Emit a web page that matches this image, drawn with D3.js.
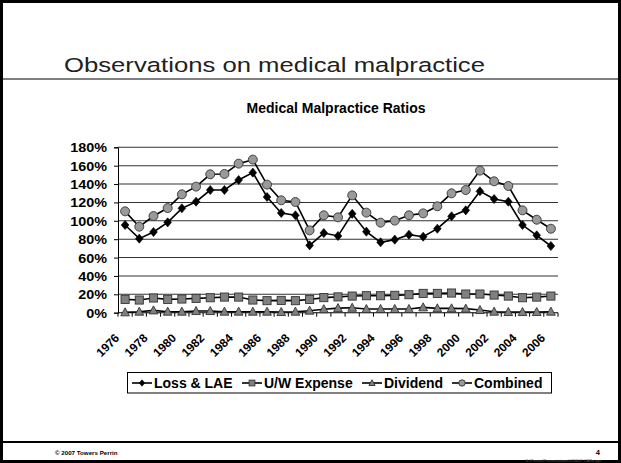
<!DOCTYPE html>
<html>
<head>
<meta charset="utf-8">
<script src="https://cdn.jsdelivr.net/npm/d3@7"></script>
<style>
  html, body { margin: 0; padding: 0; background: #fff; }
  svg { display: block; font-family: "Liberation Sans", Arial, sans-serif; }
</style>
</head>
<body>
<svg id="slide" width="621" height="463"></svg>
<script>
// Calendar years on the x axis
const years = d3.range(1976, 2007);

// Ratios (% of earned premium) by year
const lossLAE = [95.4, 80.6, 87.8, 98.3, 113.6, 120.8, 133.5, 133.5, 144.4, 152.4,
  125.9, 108.5, 106.0, 73.3, 86.7, 83.5, 107.6, 88.2, 76.6, 79.5,
  84.9, 82.7, 91.4, 104.9, 111.4, 132.1, 123.7, 120.8, 95.4, 84.2, 72.6];
const uwExpense = [14.5, 13.8, 16.0, 14.5, 14.9, 15.6, 16.3, 17.0, 17.0, 13.8,
  13.1, 13.4, 13.1, 14.4, 16.4, 17.2, 18.1, 18.5, 18.5, 18.9,
  19.6, 21.0, 21.0, 21.4, 20.3, 20.3, 19.2, 18.1, 16.3, 17.0, 18.1];
const dividend = [0.4, 1.1, 2.5, 1.1, 1.1, 1.8, 1.8, 1.1, 1.1, 1.1,
  1.1, 0.7, 1.1, 2.2, 3.8, 5.0, 5.4, 4.0, 4.0, 4.0,
  4.0, 5.8, 4.7, 4.7, 4.4, 2.9, 1.1, 0.7, 0.7, 0.7, 1.1];
const combined = [110.3, 93.6, 105.2, 113.9, 128.8, 137.2, 150.6, 151.0, 162.2, 166.6,
  139.4, 122.3, 120.5, 89.6, 106.0, 103.8, 127.7, 108.9, 98.0, 100.2,
  106.0, 108.1, 115.8, 129.9, 133.5, 154.6, 143.0, 137.9, 111.4, 101.2, 91.4];

const yTicks = [0, 20, 40, 60, 80, 100, 120, 140, 160, 180];
const seriesNames = ["Loss & LAE", "U/W Expense", "Dividend", "Combined"];

const series = [
  { name: seriesNames[0], values: lossLAE, marker: "diamond", fill: "#000" },
  { name: seriesNames[1], values: uwExpense, marker: "square", fill: "#808080" },
  { name: seriesNames[2], values: dividend, marker: "triangle", fill: "#808080" },
  { name: seriesNames[3], values: combined, marker: "circle", fill: "#999" }
];

const svg = d3.select("#slide");
const W = 621, H = 463;

// Slide frame, header rule and footer rule
svg.append("rect").attr("x", 1.5).attr("y", 1.5).attr("width", W - 3).attr("height", H - 3)
  .attr("fill", "none").attr("stroke", "#000").attr("stroke-width", 3);
svg.append("line").attr("x1", 0).attr("x2", W).attr("y1", 79).attr("y2", 79)
  .attr("stroke", "#000").attr("stroke-width", 1.2);
svg.append("line").attr("x1", 0).attr("x2", W).attr("y1", 442).attr("y2", 442)
  .attr("stroke", "#000").attr("stroke-width", 2.2);

svg.append("text").attr("x", 64).attr("y", 72)
  .style("font-size", "20.5px").style("font-weight", "normal")
  .attr("textLength", 421).attr("lengthAdjust", "spacingAndGlyphs")
  .attr("fill", "#222").text("Observations on medical malpractice");

svg.append("text").attr("x", 55).attr("y", 455)
  .style("font-size", "6.2px").style("font-weight", "bold").text("© 2007 Towers Perrin");
svg.append("text").attr("x", 600).attr("y", 455).attr("text-anchor", "end")
  .style("font-size", "7.5px").style("font-weight", "bold").text("4");
svg.append("text").attr("x", 601).attr("y", 462).attr("text-anchor", "end")
  .style("font-size", "4px").attr("fill", "#555")
  .text("S:\\Pensis\\Presentations\\070607 CARe.ppt");

// Chart title
svg.append("text").attr("x", 336).attr("y", 113).attr("text-anchor", "middle")
  .style("font-size", "14px").style("font-weight", "bold").text("Medical Malpractice Ratios");

// Plot area
const plot = { left: 118, right: 558, top: 147.3, bottom: 312.7 };

const x = d3.scaleBand().domain(years).range([plot.left, plot.right]);
const cx = d => x(d) + x.bandwidth() / 2;
const y = d3.scaleLinear().domain([0, 180]).range([plot.bottom, plot.top]);

const g = svg.append("g");

// Horizontal gridlines
g.append("g").selectAll("line").data(yTicks.filter(t => t > 0)).join("line")
  .attr("x1", plot.left).attr("x2", plot.right)
  .attr("y1", d => y(d)).attr("y2", d => y(d))
  .attr("stroke", "#333").attr("stroke-width", 1.1);

// Y axis
const yAxis = d3.axisLeft(y).tickValues(yTicks).tickSize(4).tickFormat(d => d + "%");
const yg = g.append("g").attr("transform", `translate(${plot.left},0)`).call(yAxis);
yg.select(".domain").attr("stroke", "#000");
yg.selectAll(".tick line").attr("stroke", "#000");
yg.selectAll(".tick text").attr("x", -11 / 1.15).attr("dy", "0.36em")
  .attr("transform", "scale(1.15,1)")
  .style("font-size", "12.5px").style("font-weight", "bold")
  .style("font-family", "'Liberation Sans', Arial, sans-serif").attr("fill", "#000");

// X axis at 0% with ticks on category boundaries
g.append("line").attr("x1", plot.left).attr("x2", plot.right)
  .attr("y1", y(0)).attr("y2", y(0)).attr("stroke", "#000").attr("stroke-width", 1.1);
g.append("g").selectAll("line").data(years.concat([years[years.length - 1] + 1])).join("line")
  .attr("x1", (d, i) => plot.left + i * x.bandwidth())
  .attr("x2", (d, i) => plot.left + i * x.bandwidth())
  .attr("y1", y(0)).attr("y2", y(0) + 4)
  .attr("stroke", "#000");

// Year labels, every other year, rotated
g.append("g").selectAll("text").data(years.filter(d => (d - 1976) % 2 === 0)).join("text")
  .attr("transform", d => `translate(${cx(d) - 5},${y(0) + 26}) rotate(-45)`)
  .attr("text-anchor", "end")
  .style("font-size", "12px").style("font-weight", "bold").text(d => d);

// Marker shapes
function drawMarker(sel, type, fill, size) {
  const s = size;
  if (type === "circle") {
    sel.append("circle").attr("r", s * 0.64).attr("fill", fill).attr("stroke", "#333").attr("stroke-width", 0.9);
  } else if (type === "square") {
    sel.append("rect").attr("x", -s * 0.58).attr("y", -s * 0.58).attr("width", s * 1.16).attr("height", s * 1.16)
      .attr("fill", fill).attr("stroke", "#333").attr("stroke-width", 0.9);
  } else if (type === "triangle") {
    sel.append("path").attr("d", `M0,${-s * 0.65}L${s * 0.62},${s * 0.5}L${-s * 0.62},${s * 0.5}Z`)
      .attr("fill", fill).attr("stroke", "#333").attr("stroke-width", 0.9);
  } else {
    sel.append("path").attr("d", `M0,${-s * 0.65}L${s * 0.55},0L0,${s * 0.65}L${-s * 0.55},0Z`)
      .attr("fill", fill).attr("stroke", "#000").attr("stroke-width", 0.6);
  }
}

const line = d3.line().x((d, i) => cx(years[i])).y(d => y(d));

series.forEach(s => {
  g.append("path").datum(s.values).attr("d", line)
    .attr("fill", "none").attr("stroke", "#000").attr("stroke-width", 1.6);
  g.append("g").selectAll("g").data(s.values).join("g")
    .attr("transform", (d, i) => `translate(${cx(years[i])},${y(d)})`)
    .each(function () { drawMarker(d3.select(this), s.marker, s.fill, 7); });
});

// Legend
const lg = svg.append("g");
lg.append("rect").attr("x", 127.5).attr("y", 372.5).attr("width", 424).attr("height", 20.5)
  .attr("fill", "#fff").attr("stroke", "#000").attr("stroke-width", 1);
const legendX = [132, 242, 362, 452];
series.forEach((s, i) => {
  const item = lg.append("g").attr("transform", `translate(${legendX[i]},383)`);
  item.append("line").attr("x1", 0).attr("x2", 20).attr("stroke", "#000").attr("stroke-width", 1.6);
  const m = item.append("g").attr("transform", "translate(10,0)");
  drawMarker(m, s.marker, s.fill, 5);
  item.append("text").attr("x", 22).attr("dy", "0.36em")
    .style("font-size", "14px").style("font-weight", "bold").text(s.name);
});
</script>
</body>
</html>
